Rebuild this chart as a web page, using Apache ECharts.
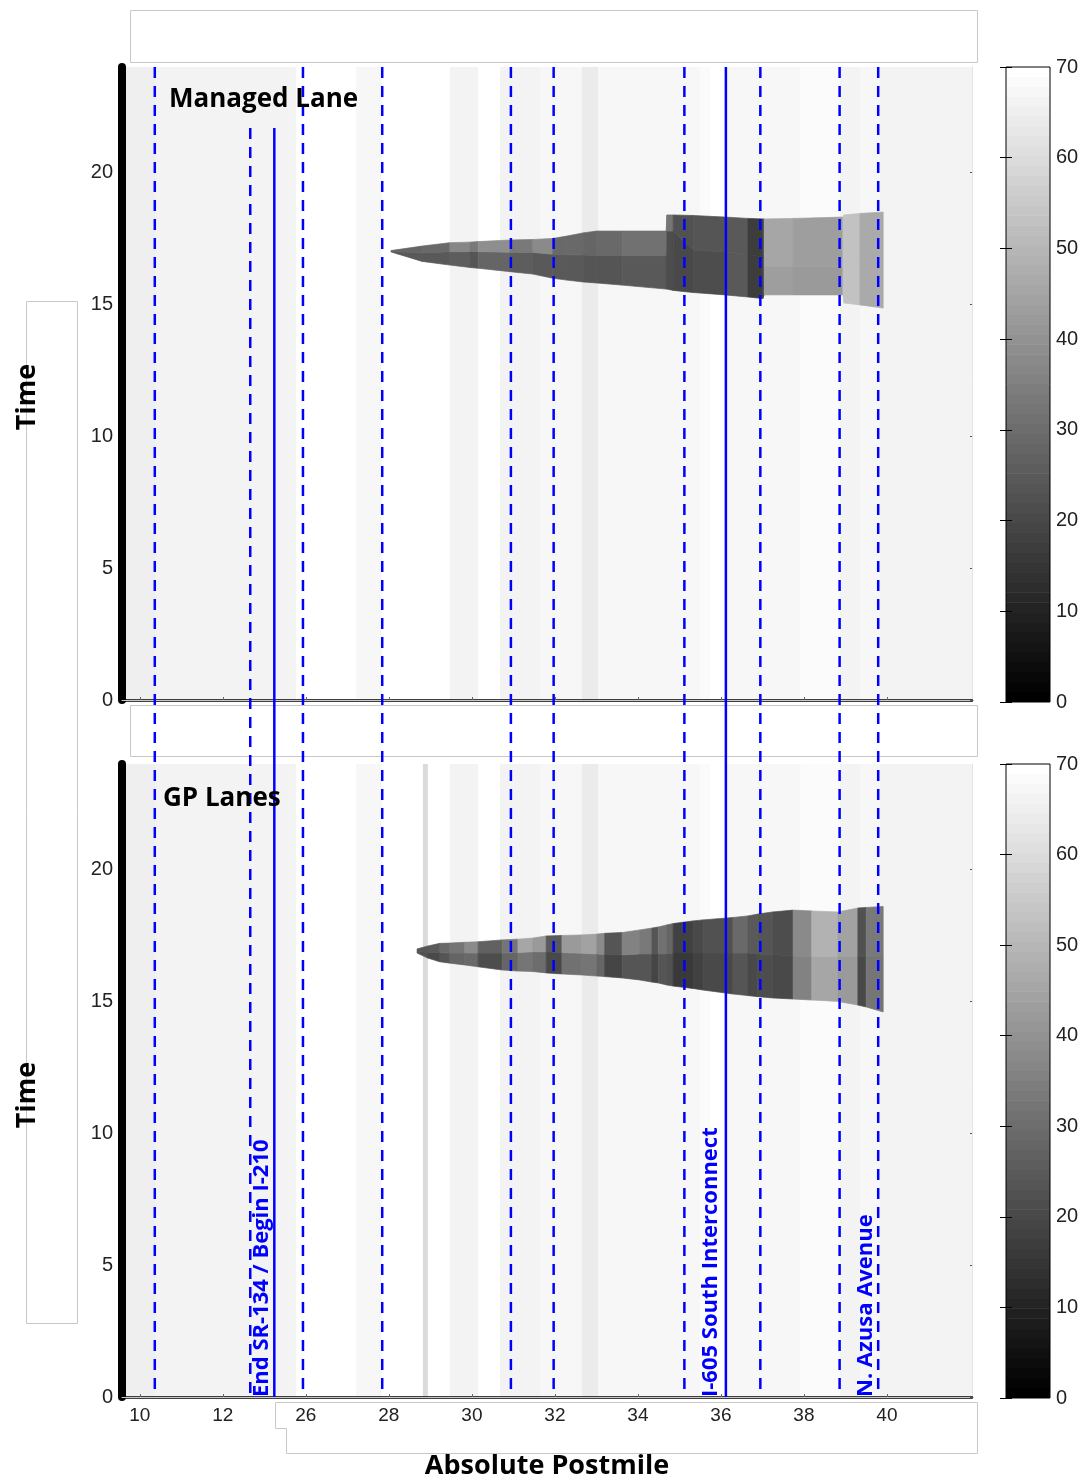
<!DOCTYPE html>
<html><head><meta charset="utf-8">
<script src="https://cdn.jsdelivr.net/npm/echarts@6/dist/echarts.min.js"></script>
<style>html,body{margin:0;padding:0;background:#fff}#c{width:1083px;height:1483px}</style>
</head><body><div id="c"></div>
<script>
// ================= DATA =================
// x axis ticks (postmile positions) and the labels printed under them
const xTickValues = [22, 24, 26, 28, 30, 32, 34, 36, 38, 40];
const xTickLabels = ['10', '12', '26', '28', '30', '32', '34', '36', '38', '40'];
const timeTicks = [0, 5, 10, 15, 20];
const speedTicks = [0, 10, 20, 30, 40, 50, 60, 70];

// free-flow background columns (postmile edges, speed mph)
const mlBgEdges = [21.57, 22.37, 25.76, 27.21, 27.83, 29.47, 30.15, 30.68, 31.64, 32.65, 33.04, 35.50, 35.74, 36.10, 37.91, 38.87, 39.35, 39.83, 42.05];
const mlBgSpeed = [65.6, 66.5, 69.5, 67.8, 70, 66.5, 70, 67, 68.1, 64, 67.5, 68.6, 70, 67.8, 68.6, 66.7, 67.5, 67];
const gpBgEdges = [21.57, 22.37, 25.76, 27.21, 27.83, 28.82, 28.94, 29.47, 30.15, 30.68, 31.64, 32.65, 33.04, 35.50, 35.74, 36.10, 37.91, 38.87, 39.35, 39.83, 42.05];
const gpBgSpeed = [65.6, 66.5, 69.5, 67.8, 70, 60.4, 70, 66.5, 70, 67, 68.1, 64, 67.5, 68.6, 70, 67.8, 68.6, 66.7, 67.5, 67];

// Managed Lane congestion: breakpoints (postmile), onset/mid/end times (h), band speeds per segment
const mlPM    = [28.05, 28.80, 29.47, 29.95, 30.15, 30.92, 31.47, 31.95, 32.29, 32.68, 33.01, 33.62, 34.68, 34.70, 34.85, 35.33, 36.10, 36.65, 37.01, 37.04, 37.74, 38.94, 38.97, 39.35, 39.91];
const mlLowT  = [16.99, 16.63, 16.49, 16.40, 16.37, 16.24, 16.15, 15.99, 15.92, 15.85, 15.81, 15.73, 15.58, 15.58, 15.53, 15.45, 15.36, 15.28, 15.22, 15.36, 15.36, 15.36, 15.05, 14.98, 14.86];
const mlMidT  = [17.01, 16.95, 17.00, 17.00, 17.00, 16.98, 16.97, 16.90, 16.88, 16.87, 16.85, 16.85, 16.85, 17.78, 17.78, 17.06, 17.00, 16.90, 16.80, 16.45, 16.45, 16.45, 16.70, 16.70, 16.70];
const mlHighT = [17.04, 17.21, 17.34, 17.36, 17.38, 17.44, 17.46, 17.50, 17.59, 17.71, 17.78, 17.78, 17.78, 18.39, 18.39, 18.37, 18.31, 18.26, 18.24, 18.24, 18.26, 18.31, 18.39, 18.45, 18.50];
const mlSpeedLate  = [28, 29, 36.5, 33.5, 38.4, 33.8, 37.3, 29, 29, 28, 29.4, 30.7, 32.7, 32.7, 22, 23.3, 24.7, 16.7, 16.7, 45.3, 42.8, 53.5, 53.5, 46.7];
const mlSpeedEarly = [24, 24.7, 26, 23.3, 28, 25.8, 24.7, 24.7, 24.7, 23.3, 23.3, 24.7, 21.4, 21.4, 20.3, 21.1, 24.7, 16.7, 16.7, 42.8, 42, 53.5, 53.5, 46.7];

// GP Lanes congestion
const gpPM    = [28.68, 28.94, 29.23, 29.47, 29.83, 30.15, 30.73, 31.11, 31.47, 31.79, 32.17, 32.65, 33.01, 33.20, 33.62, 34.05, 34.34, 34.49, 34.70, 34.85, 35.33, 35.57, 36.29, 36.65, 36.89, 37.25, 37.74, 38.19, 38.82, 39.30, 39.50, 39.91];
const gpLowT  = [16.83, 16.64, 16.50, 16.45, 16.38, 16.31, 16.19, 16.15, 16.13, 16.08, 16.04, 16.00, 15.96, 15.94, 15.89, 15.81, 15.73, 15.70, 15.62, 15.58, 15.49, 15.43, 15.28, 15.22, 15.18, 15.13, 15.09, 15.05, 15.00, 14.86, 14.79, 14.60];
const gpMidT  = [16.90, 16.85, 16.85, 16.83, 16.83, 16.83, 16.83, 16.85, 16.88, 16.88, 16.85, 16.82, 16.80, 16.78, 16.76, 16.80, 16.80, 16.80, 16.80, 16.83, 16.83, 16.83, 16.83, 16.83, 16.80, 16.78, 16.72, 16.70, 16.70, 16.70, 16.70, 16.70];
const gpHighT = [16.99, 17.10, 17.20, 17.21, 17.24, 17.26, 17.33, 17.36, 17.40, 17.48, 17.50, 17.52, 17.55, 17.58, 17.61, 17.71, 17.78, 17.82, 17.90, 17.95, 18.05, 18.09, 18.18, 18.24, 18.31, 18.39, 18.46, 18.43, 18.39, 18.54, 18.56, 18.60];
const gpSpeedLate  = [23.3, 24.7, 29.1, 32.7, 37.3, 26.4, 32.7, 45.3, 42, 24.5, 42.3, 44, 37.9, 23.3, 35.1, 33.5, 23.3, 30.7, 28, 17.6, 19.8, 22, 29.1, 24.7, 23.3, 21.1, 37.9, 48.4, 44, 22, 33.5];
const gpSpeedEarly = [22, 20.3, 23.3, 28, 29.1, 21.1, 28, 32.7, 30.2, 20.3, 30.7, 32.7, 28, 19, 23.3, 23.3, 18.7, 23.3, 22, 16, 17.6, 19.8, 23.3, 20.3, 21.1, 20.3, 35.1, 45.3, 42.3, 20.3, 32.7];

// reference lines (postmile) and the managed-lane time where each starts at the top
const dashedPM   = [22.36, 24.66, 25.93, 27.84, 30.94, 31.97, 35.12, 36.95, 38.86, 39.79];
const dashedTopT = [24, 21.69, 24, 24, 24, 24, 24, 24, 24, 24];
const solidPM    = [25.24, 36.12];
const solidTopT  = [21.69, 24];
const landmarkPM    = [24.94, 35.76, 39.50];
const landmarkNames = ['End SR-134 / Begin I-210', 'I-605 South Interconnect', 'N. Azusa Avenue'];

// ================= LAYOUT =================
const GL = 122, GW = 850, ML_TOP = 67, GP_TOP = 764, PH = 633;
const X_MIN = 21.57, X_MAX = 42.05;
const OV_H = GP_TOP + PH - ML_TOP;
const OV_MIN = 24 - 24 * OV_H / PH;
const TICK_FONT = 'Liberation Sans, Arial, sans-serif';
const TITLE_FONT = '"Open Sans", Lato, sans-serif';

function gray(v) {
  const lv = Math.max(0, Math.min(63, Math.round(v / 70 * 63)));
  const g = Math.round(lv / 63 * 255);
  return 'rgb(' + g + ',' + g + ',' + g + ')';
}
function bgData(edges, speed) { return speed.map((s, i) => [edges[i], edges[i + 1], s]); }
function bandData(pm, lo, mid, hi, late, early) {
  return late.map((s, i) => [pm[i], pm[i + 1], lo[i], lo[i + 1], mid[i], mid[i + 1], hi[i], hi[i + 1], s, early[i]]);
}
function renderBg(params, api) {
  const p0 = api.coord([api.value(0), 24]);
  const p1 = api.coord([api.value(1), 0]);
  const c = gray(api.value(2));
  return { type: 'rect', shape: { x: p0[0], y: p0[1], width: p1[0] - p0[0] + 0.5, height: p1[1] - p0[1] },
    style: { fill: c } };
}
function renderBand(params, api) {
  const xl = api.value(0), xr = api.value(1);
  const P = (x, t) => api.coord([x, t]);
  const lower = [P(xl, api.value(2)), P(xr, api.value(3)), P(xr, api.value(5)), P(xl, api.value(4))];
  const upper = [P(xl, api.value(4)), P(xr, api.value(5)), P(xr, api.value(7)), P(xl, api.value(6))];
  const cE = gray(api.value(9)), cL = gray(api.value(8));
  return { type: 'group', children: [
    { type: 'polygon', shape: { points: lower }, style: { fill: cE, stroke: cE, lineWidth: 0.7 } },
    { type: 'polygon', shape: { points: upper }, style: { fill: cL, stroke: cL, lineWidth: 0.7 } }
  ] };
}
function lineRenderer(dash) {
  return function (params, api) {
    const top = api.coord([api.value(0), api.value(1)]);
    const bot = api.coord([api.value(0), OV_MIN]);
    return { type: 'line', shape: { x1: top[0], y1: top[1], x2: bot[0], y2: bot[1] },
      style: { stroke: '#0000ff', lineWidth: 2.5, lineDash: dash } };
  };
}
function renderLabel(params, api) {
  const p = api.coord([api.value(0), api.value(1)]);
  return { type: 'text', x: p[0], y: p[1], rotation: Math.PI / 2,
    style: { text: landmarkNames[params.dataIndex], fill: '#0000ff', font: 'bold 22px ' + TITLE_FONT,
      align: 'left', verticalAlign: 'middle', textAlign: 'left', textVerticalAlign: 'middle' } };
}
function renderCb(params, api) {
  const k = api.value(0);
  const p0 = api.coord([0, (k + 1) * 70 / 64]);
  const p1 = api.coord([1, k * 70 / 64]);
  const g = Math.round(k / 63 * 255);
  const c = 'rgb(' + g + ',' + g + ',' + g + ')';
  return { type: 'rect', shape: { x: p0[0], y: p0[1] - 0.6, width: p1[0] - p0[0], height: p1[1] - p0[1] + 0.6 },
    style: { fill: c } };
}
function renderFrame(params, api) {
  const p0 = api.coord([0, 70]);
  const p1 = api.coord([1, 0]);
  return { type: 'rect', shape: { x: p0[0], y: p0[1], width: p1[0] - p0[0], height: p1[1] - p0[1] },
    style: { fill: 'none', stroke: '#000', lineWidth: 1 } };
}
const cbLevels = Array.from({ length: 64 }, (_, k) => [k]);

function heatX(grid, withLabels) {
  return {
    gridIndex: grid, type: 'value', min: X_MIN, max: X_MAX, z: 5,
    axisLine: { lineStyle: { color: '#000', width: 2.5 } },
    axisTick: { show: false },
    splitLine: { show: false },
    axisLabel: withLabels ? {
      customValues: xTickValues, margin: 9, fontSize: 19, fontFamily: TICK_FONT, color: '#222',
      formatter: v => xTickLabels[xTickValues.indexOf(v)]
    } : { show: false },
    name: withLabels ? 'Absolute Postmile' : '',
    nameLocation: 'middle', nameGap: 56,
    nameTextStyle: { fontSize: 27, fontWeight: 'bold', fontFamily: TITLE_FONT, color: '#000' }
  };
}
function heatXTop(grid) {
  return {
    gridIndex: grid, type: 'value', min: X_MIN, max: X_MAX, position: 'top', z: 5,
    axisLine: { lineStyle: { color: '#c8c8c8', width: 1 } },
    axisTick: { customValues: xTickValues, length: 3, lineStyle: { color: '#666' } },
    axisLabel: { show: false }, splitLine: { show: false }
  };
}
function heatY(grid) {
  return {
    gridIndex: grid, type: 'value', min: 0, max: 24, z: 5,
    axisLine: { show: true, lineStyle: { color: '#000', width: 8 } },
    axisTick: { show: false },
    axisLabel: { customValues: timeTicks, margin: 9, fontSize: 20, fontFamily: TICK_FONT, color: '#222' },
    splitLine: { show: false }
  };
}
function heatYRight(grid) {
  return {
    gridIndex: grid, type: 'value', min: 0, max: 24, position: 'right', z: 5,
    axisLine: { show: true, lineStyle: { color: '#e4e4e4', width: 1 } },
    axisTick: { show: true, customValues: timeTicks, inside: true, length: 2, lineStyle: { color: '#555' } },
    axisLabel: { show: false }, splitLine: { show: false }
  };
}
function cbY(grid, pos) {
  return {
    gridIndex: grid, type: 'value', min: 0, max: 70, interval: 10, position: pos, z: 6,
    axisLine: { show: false },
    axisTick: { show: true, inside: true, length: 6, lineStyle: { color: '#000', width: 1 } },
    axisLabel: pos === 'right' ? { margin: 6, fontSize: 20, fontFamily: TICK_FONT, color: '#222' } : { show: false },
    splitLine: { show: false }
  };
}
function hiddenX(grid, min, max) { return { gridIndex: grid, type: 'value', min: min, max: max, show: false }; }

const boxStyle = { fill: 'none', stroke: '#c8c8c8', lineWidth: 1 };
const gridBase = { outerBoundsMode: 'none', containLabel: false };
const option = {
  animation: false,
  backgroundColor: '#ffffff',
  grid: [
    Object.assign({ left: GL, top: ML_TOP, width: GW, height: PH }, gridBase),
    Object.assign({ left: GL, top: GP_TOP, width: GW, height: PH }, gridBase),
    Object.assign({ left: GL, top: ML_TOP, width: GW, height: OV_H }, gridBase),
    Object.assign({ left: 1006, top: 67, width: 44, height: 635 }, gridBase),
    Object.assign({ left: 1006, top: 764, width: 44, height: 634 }, gridBase)
  ],
  xAxis: [
    heatX(0, false), heatXTop(0),
    heatX(1, true), heatXTop(1),
    hiddenX(2, X_MIN, X_MAX),
    hiddenX(3, 0, 1), hiddenX(4, 0, 1)
  ],
  yAxis: [
    heatY(0), heatYRight(0),
    heatY(1), heatYRight(1),
    { gridIndex: 2, type: 'value', min: OV_MIN, max: 24, show: false },
    cbY(3, 'right'), cbY(3, 'left'),
    cbY(4, 'right'), cbY(4, 'left')
  ],
  graphic: [
    { type: 'rect', z: 0, shape: { x: 130.5, y: 10.5, width: 847, height: 52 }, style: boxStyle },
    { type: 'rect', z: 0, shape: { x: 130.5, y: 705.5, width: 847, height: 51 }, style: boxStyle },
    { type: 'rect', z: 0, shape: { x: 26.5, y: 301.5, width: 51, height: 1022 }, style: boxStyle },
    { type: 'polygon', z: 0, shape: { points: [[275.5, 1402.5], [977.5, 1402.5], [977.5, 1453.5], [286.5, 1453.5], [286.5, 1428.5], [275.5, 1428.5]] }, style: boxStyle },
    { type: 'text', z: 100, x: 169, y: 100, style: { text: 'Managed Lane', font: 'bold 26px ' + TITLE_FONT, fill: '#000', align: 'left', verticalAlign: 'middle', textAlign: 'left', textVerticalAlign: 'middle' } },
    { type: 'text', z: 100, x: 163, y: 799, style: { text: 'GP Lanes', font: 'bold 26px ' + TITLE_FONT, fill: '#000', align: 'left', verticalAlign: 'middle', textAlign: 'left', textVerticalAlign: 'middle' } },
    { type: 'text', z: 100, x: 27, y: 397, rotation: Math.PI / 2, style: { text: 'Time', font: 'bold 27px ' + TITLE_FONT, fill: '#000', align: 'center', verticalAlign: 'middle', textAlign: 'center', textVerticalAlign: 'middle' } },
    { type: 'text', z: 100, x: 27, y: 1095, rotation: Math.PI / 2, style: { text: 'Time', font: 'bold 27px ' + TITLE_FONT, fill: '#000', align: 'center', verticalAlign: 'middle', textAlign: 'center', textVerticalAlign: 'middle' } }
  ],
  series: [
    { type: 'custom', name: 'ML background', xAxisIndex: 0, yAxisIndex: 0, z: 1, renderItem: renderBg, data: bgData(mlBgEdges, mlBgSpeed) },
    { type: 'custom', name: 'ML congestion', xAxisIndex: 0, yAxisIndex: 0, z: 2, renderItem: renderBand, data: bandData(mlPM, mlLowT, mlMidT, mlHighT, mlSpeedLate, mlSpeedEarly) },
    { type: 'custom', name: 'GP background', xAxisIndex: 2, yAxisIndex: 2, z: 1, renderItem: renderBg, data: bgData(gpBgEdges, gpBgSpeed) },
    { type: 'custom', name: 'GP congestion', xAxisIndex: 2, yAxisIndex: 2, z: 2, renderItem: renderBand, data: bandData(gpPM, gpLowT, gpMidT, gpHighT, gpSpeedLate, gpSpeedEarly) },
    { type: 'custom', name: 'dashed', xAxisIndex: 4, yAxisIndex: 4, z: 10, renderItem: lineRenderer([11, 8]), data: dashedPM.map((p, i) => [p, dashedTopT[i]]) },
    { type: 'custom', name: 'solid', xAxisIndex: 4, yAxisIndex: 4, z: 10, renderItem: lineRenderer(null), data: solidPM.map((p, i) => [p, solidTopT[i]]) },
    { type: 'custom', name: 'landmarks', xAxisIndex: 2, yAxisIndex: 2, z: 20, renderItem: renderLabel, data: landmarkPM.map(p => [p, 0]) },
    { type: 'custom', name: 'cb1', xAxisIndex: 5, yAxisIndex: 5, z: 2, renderItem: renderCb, data: cbLevels },
    { type: 'custom', name: 'cb1 frame', xAxisIndex: 5, yAxisIndex: 5, z: 7, renderItem: renderFrame, data: [[0]] },
    { type: 'custom', name: 'cb2', xAxisIndex: 6, yAxisIndex: 7, z: 2, renderItem: renderCb, data: cbLevels },
    { type: 'custom', name: 'cb2 frame', xAxisIndex: 6, yAxisIndex: 7, z: 7, renderItem: renderFrame, data: [[0]] }
  ]
};
const chart = echarts.init(document.getElementById('c'));
chart.setOption(option);
</script>
</body></html>
